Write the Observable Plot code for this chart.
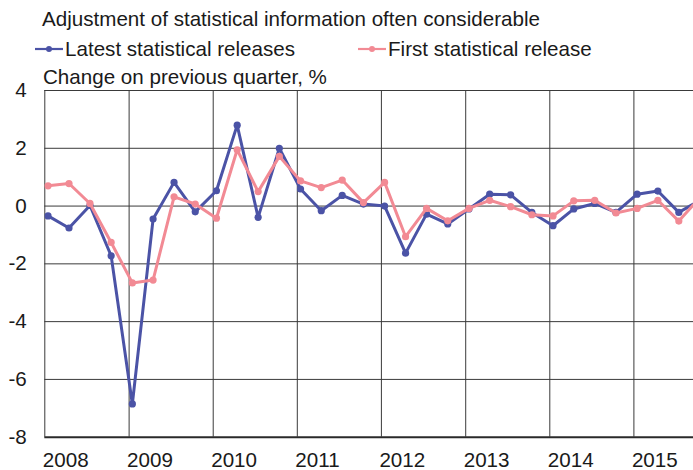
<!DOCTYPE html>
<html>
<head>
<meta charset="utf-8">
<script src="https://cdn.jsdelivr.net/npm/d3@7"></script>
<script src="https://cdn.jsdelivr.net/npm/@observablehq/plot@0.6"></script>
<style>
  html, body { margin: 0; padding: 0; background: #fff; overflow: hidden; }
  #wrap { position: relative; width: 693px; height: 470px; font-family: "Liberation Sans", Arial, sans-serif; color: #1a1a1a; }
  .t { position: absolute; z-index: 2; font-size: 20.6px; line-height: 20.6px; white-space: nowrap; }
  .leg { position: absolute; z-index: 2; display: flex; align-items: center; font-size: 20.6px; line-height: 20.6px; white-space: nowrap; }
  .leg svg { display: block; margin-right: 2px; }
  #chart { position: absolute; left: 0; top: 0; z-index: 1; }
</style>
</head>
<body>
<div id="wrap">
  <div class="t" style="left:42px; top:9.3px;">Adjustment of statistical information often considerable</div>
  <div class="leg" id="leg1" style="left:35px; top:39px;"></div>
  <div class="leg" id="leg2" style="left:358px; top:39px;"></div>
  <div class="t" style="left:43px; top:66.6px;">Change on previous quarter, %</div>
  <div id="chart"></div>
</div>
<script>
const quarters = [
  "2008Q1","2008Q2","2008Q3","2008Q4",
  "2009Q1","2009Q2","2009Q3","2009Q4",
  "2010Q1","2010Q2","2010Q3","2010Q4",
  "2011Q1","2011Q2","2011Q3","2011Q4",
  "2012Q1","2012Q2","2012Q3","2012Q4",
  "2013Q1","2013Q2","2013Q3","2013Q4",
  "2014Q1","2014Q2","2014Q3","2014Q4",
  "2015Q1","2015Q2","2015Q3","2015Q4"
];
const latestReleases = [
  -0.34, -0.76, 0.02, -1.72,
  -6.85, -0.45, 0.82, -0.20,
  0.53, 2.80, -0.39, 2.00,
  0.59, -0.16, 0.37, 0.07,
  0.00, -1.63, -0.28, -0.62,
  -0.10, 0.41, 0.39, -0.22,
  -0.68, -0.10, 0.09, -0.22,
  0.41, 0.52, -0.22, 0.20
];
const firstRelease = [
  0.70, 0.78, 0.09, -1.26,
  -2.66, -2.56, 0.32, 0.07,
  -0.42, 1.95, 0.50, 1.72,
  0.87, 0.64, 0.90, 0.12,
  0.82, -1.06, -0.08, -0.51,
  -0.08, 0.20, -0.02, -0.30,
  -0.34, 0.18, 0.20, -0.24,
  -0.08, 0.20, -0.52, 0.30
];
const seriesNames = ["Latest statistical releases", "First statistical release"];
const seriesColors = ["#4b53a6", "#f28a94"];
const yTicks = [-8, -6, -4, -2, 0, 2, 4];
const yearTicks = [2008, 2009, 2010, 2011, 2012, 2013, 2014, 2015];

const qDate = q => new Date(Date.UTC(+q.slice(0, 4), (+q.slice(5) - 1) * 3, 15));
const rows = quarters.map((q, i) => ({date: qDate(q), latest: latestReleases[i], first: firstRelease[i]}));
const yearDates = yearTicks.map(y => new Date(Date.UTC(y, 0, 1)));
const xStart = yearDates[0];
const xEnd = new Date(xStart.getTime() + 7.709 * 365.25 * 864e5);

// legend
function legendItem(el, name, color) {
  el.innerHTML = `<svg width="28" height="12"><line x1="0" x2="28" y1="6" y2="6" stroke="${color}" stroke-width="2.2"/><circle cx="14" cy="6" r="3" fill="${color}"/></svg><span>${name}</span>`;
}
legendItem(document.getElementById("leg1"), seriesNames[0], seriesColors[0]);
legendItem(document.getElementById("leg2"), seriesNames[1], seriesColors[1]);

const grid = "#3a3a3a";
const chart = Plot.plot({
  width: 693,
  height: 470,
  marginTop: 90,
  marginBottom: 33.3,
  marginLeft: 44.3,
  marginRight: 0,
  style: {fontFamily: "'Liberation Sans', Arial, sans-serif", fontSize: "20.6px", color: "#1a1a1a", background: "transparent"},
  x: {type: "utc", domain: [xStart, xEnd]},
  y: {domain: [-8, 4]},
  marks: [
    Plot.ruleY(yTicks.filter(d => d > -8), {stroke: grid, strokeWidth: 1}),
    Plot.ruleX(yearDates, {stroke: grid, strokeWidth: 1}),
    Plot.ruleY([-8], {stroke: "#2a2a2a", strokeWidth: 2}),
    Plot.axisY(yTicks, {tickSize: 0, tickPadding: 18, tickFormat: d => String(d), fontSize: 20.6}),
    Plot.axisX(yearDates, {tickSize: 0, tickPadding: 15, tickFormat: d => d3.utcFormat("%Y")(d), textAnchor: "start", dx: -2, fontSize: 20.6}),
    Plot.lineY(rows, {x: "date", y: "latest", stroke: seriesColors[0], strokeWidth: 3, clip: true}),
    Plot.dot(rows, {x: "date", y: "latest", fill: seriesColors[0], r: 3.6, clip: true}),
    Plot.lineY(rows, {x: "date", y: "first", stroke: seriesColors[1], strokeWidth: 3, clip: true}),
    Plot.dot(rows, {x: "date", y: "first", fill: seriesColors[1], r: 3.6, clip: true})
  ]
});
document.getElementById("chart").appendChild(chart);
</script>
</body>
</html>
